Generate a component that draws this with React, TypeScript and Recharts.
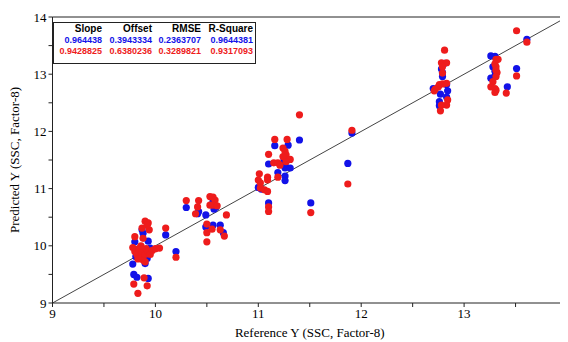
import { ScatterChart, Scatter, XAxis, YAxis, ReferenceLine } from "recharts";

// calibration set (blue) and prediction set (red), [reference, predicted]
const calPoints: [number, number][] = [
  [9.87, 10.28], [9.88, 10.22], [9.8, 10.07], [9.93, 10.08], [10.1, 10.19], [9.81, 9.81],
  [9.9, 9.69], [9.78, 9.68], [10.2, 9.9], [9.79, 9.5], [9.82, 9.45], [9.93, 9.43],
  [9.85, 9.86], [9.95, 9.96], [9.92, 9.78], [9.83, 9.94],
  [10.3, 10.67], [10.42, 10.6], [10.41, 10.56], [10.56, 10.77], [10.59, 10.68], [10.57, 10.64],
  [10.49, 10.54], [10.49, 10.33], [10.56, 10.36], [10.63, 10.36], [10.66, 10.23],
  [11.16, 11.75], [11.29, 11.76], [11.4, 11.85], [11.1, 11.43], [11.25, 11.51], [11.26, 11.43],
  [11.26, 11.36], [11.31, 11.36], [11.19, 11.28], [11.26, 11.22], [11.26, 11.14], [11.0, 11.02],
  [11.03, 10.99], [11.1, 10.75], [11.51, 10.75],
  [11.91, 11.97], [11.87, 11.44],
  [12.81, 13.19], [12.78, 13.09], [12.79, 13.03], [12.79, 12.96], [12.83, 12.82], [12.7, 12.75],
  [12.84, 12.71], [12.77, 12.65], [12.83, 12.6], [12.76, 12.52], [12.76, 12.45],
  [13.61, 13.61], [13.26, 13.32], [13.3, 13.31], [13.28, 13.13], [13.3, 12.97], [13.26, 12.93],
  [13.42, 12.78], [13.51, 13.1], [13.3, 13.05],
];

const predPoints: [number, number][] = [
  [9.9, 10.43], [9.93, 10.4], [9.87, 10.31], [9.94, 10.28], [10.1, 10.31], [9.8, 10.16],
  [9.88, 10.13], [9.92, 10.36],
  [9.78, 9.97], [9.8, 9.9], [9.82, 9.85], [9.84, 9.95], [9.85, 9.8], [9.87, 9.9], [9.88, 9.75],
  [9.9, 9.85], [9.91, 9.95], [9.93, 9.9], [9.95, 9.85], [9.97, 9.92], [10.0, 9.95], [10.04, 9.96],
  [9.86, 10.0], [9.9, 9.72], [9.83, 9.77],
  [10.2, 9.8], [9.79, 9.33], [9.92, 9.3], [9.83, 9.17], [9.89, 9.44],
  [10.3, 10.79], [10.42, 10.79], [10.41, 10.68], [10.39, 10.56], [10.53, 10.86], [10.56, 10.85],
  [10.58, 10.8], [10.56, 10.71], [10.53, 10.71], [10.6, 10.7], [10.69, 10.54], [10.5, 10.38],
  [10.5, 10.23], [10.5, 10.07], [10.55, 10.29], [10.63, 10.28], [10.67, 10.17],
  [11.4, 12.29], [11.16, 11.86], [11.28, 11.86], [11.24, 11.71], [11.26, 11.65], [11.27, 11.59],
  [11.24, 11.56], [11.1, 11.6], [11.15, 11.45], [11.19, 11.45], [11.21, 11.41], [11.31, 11.51],
  [11.27, 11.47], [11.01, 11.26], [11.0, 11.15], [11.02, 11.1], [11.09, 11.2], [11.09, 11.15],
  [11.19, 11.2], [11.02, 11.01], [11.06, 10.98], [11.09, 10.95], [11.1, 10.68], [11.1, 10.6],
  [11.51, 10.58],
  [11.91, 12.02], [11.87, 11.08],
  [12.81, 13.42], [12.78, 13.2], [12.83, 13.2], [12.79, 13.13], [12.79, 13.02], [12.76, 12.82],
  [12.79, 12.83], [12.83, 12.84], [12.71, 12.71], [12.75, 12.78], [12.84, 12.55], [12.83, 12.46],
  [12.78, 12.46], [12.77, 12.36], [12.72, 12.74],
  [13.51, 13.76], [13.61, 13.56], [13.31, 13.26], [13.33, 13.26], [13.3, 13.18], [13.31, 13.13],
  [13.31, 13.07], [13.32, 13.03], [13.31, 12.96], [13.28, 12.87], [13.26, 12.78], [13.3, 12.75],
  [13.31, 12.72], [13.3, 12.68], [13.41, 12.67], [13.51, 12.97],
];

const axisTicks = [9, 9.5, 10, 10.5, 11, 11.5, 12, 12.5, 13, 13.5, 14];

const statHeaders = ["Slope", "Offset", "RMSE", "R-Square"];
const calStats = ["0.964438", "0.3943334", "0.2363707", "0.9644381"];
const predStats = ["0.9428825", "0.6380236", "0.3289821", "0.9317093"];

const BLUE = "#1212e8";
const RED = "#ee1c1c";

const toXY = (pts: [number, number][]) => pts.map(([x, y]) => ({ x, y }));

const dot = (color: string) => (props: any) =>
  <circle cx={props.cx} cy={props.cy} r={3.6} fill={color} />;

const tickFmt = (v: number) => (Number.isInteger(v) ? String(v) : "");

const serif = "'Liberation Serif', 'Times New Roman', serif";
const sans = "'Liberation Sans', Arial, sans-serif";

// right edges of the stat columns, measured from the box's right side
const colRight = [153, 103, 54, 2];

function StatsBox() {
  const rows = [
    { cells: statHeaders, color: "#000", size: 10 },
    { cells: calStats, color: BLUE, size: 9 },
    { cells: predStats, color: RED, size: 9 },
  ];
  return (
    <div
      style={{
        position: "absolute",
        left: 45,
        top: 14,
        width: 203,
        height: 42,
        boxSizing: "border-box",
        border: "1px solid #222",
        background: "#fff",
        fontFamily: sans,
        fontWeight: "bold",
      }}
    >
      {rows.map((row, r) =>
        row.cells.map((c, i) => (
          <span
            key={r + "-" + i}
            style={{
              position: "absolute",
              top: r * 11 - 1,
              right: colRight[i],
              fontSize: row.size,
              lineHeight: "14px",
              color: row.color,
              whiteSpace: "nowrap",
            }}
          >
            {c}
          </span>
        ))
      )}
    </div>
  );
}

export default function App() {
  return (
    <div style={{ position: "relative", width: 560, height: 334 }}>
      <ScatterChart width={560} height={334} margin={{ top: 9, right: 1, left: 0, bottom: 0 }}>
        <XAxis
          type="number"
          dataKey="x"
          domain={[9, 14]}
          ticks={axisTicks}
          tickFormatter={tickFmt}
          interval={0}
          height={39}
          tickSize={4}
          tickMargin={2}
          stroke="#222"
          tick={{ fill: "#000", fontSize: 13, fontFamily: serif }}
          allowDataOverflow
          label={{
            value: "Reference Y (SSC, Factor-8)",
            position: "insideBottom",
            offset: 5,
            fill: "#000",
            fontSize: 13,
            fontFamily: serif,
          }}
        />
        <YAxis
          type="number"
          dataKey="y"
          domain={[9, 14]}
          ticks={axisTicks}
          tickFormatter={tickFmt}
          interval={0}
          width={44.5}
          tickSize={4}
          tickMargin={2}
          stroke="#222"
          tick={{ fill: "#000", fontSize: 13, fontFamily: serif }}
          allowDataOverflow
          label={{
            value: "Predicted Y (SSC, Factor-8)",
            angle: -90,
            position: "insideLeft",
            offset: 6,
            fill: "#000",
            fontSize: 13,
            fontFamily: serif,
            style: { textAnchor: "middle" },
          }}
        />
        <ReferenceLine y={14} stroke="#222" />
        <ReferenceLine
          segment={[{ x: 9, y: 9 }, { x: 14, y: 14 }]}
          stroke="#444"
          strokeWidth={1}
        />
        <Scatter data={toXY(calPoints)} shape={dot(BLUE)} isAnimationActive={false} />
        <Scatter data={toXY(predPoints)} shape={dot(RED)} isAnimationActive={false} />
      </ScatterChart>
      <StatsBox />
    </div>
  );
}
